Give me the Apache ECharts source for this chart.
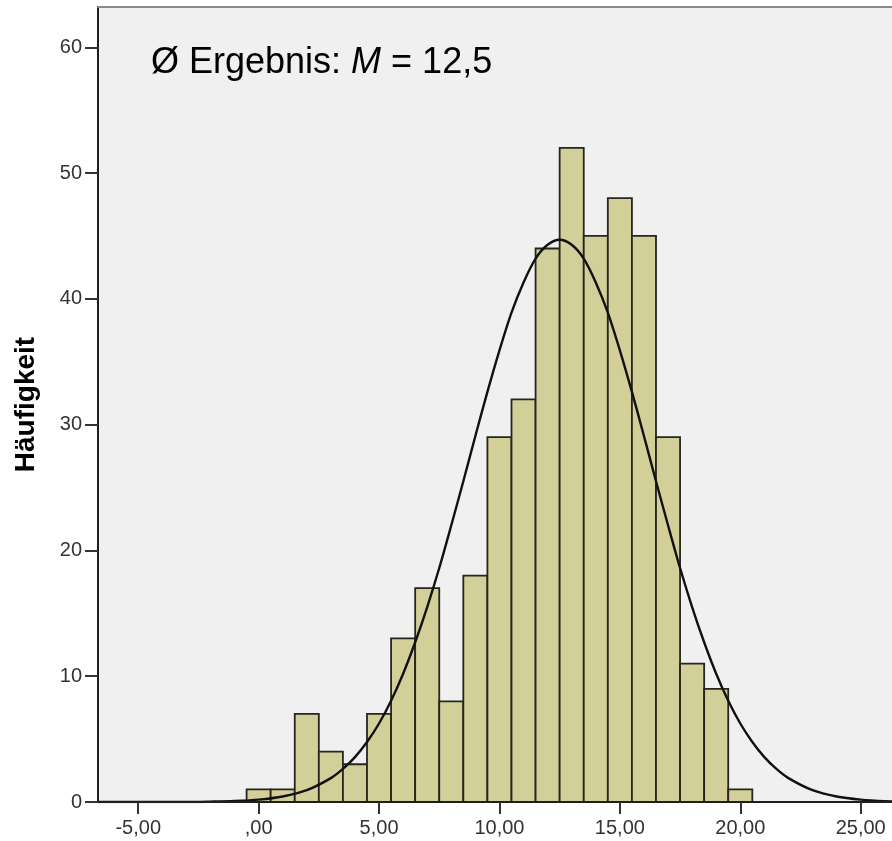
<!DOCTYPE html>
<html>
<head>
<meta charset="utf-8">
<script src="https://cdn.jsdelivr.net/npm/echarts@6/dist/echarts.min.js"></script>
<style>
  html, body { margin: 0; padding: 0; background: #fff; }
  #chart { width: 892px; height: 841px; }
</style>
</head>
<body>
<div id="chart"></div>
<script>
// Histogramm: Klassenmitten und Häufigkeiten
const binCenters = [0, 1, 2, 3, 4, 5, 6, 7, 8, 9, 10, 11, 12, 13, 14, 15, 16, 17, 18, 19, 20];
const binCounts = [1, 1, 7, 4, 3, 7, 13, 17, 8, 18, 29, 32, 44, 52, 45, 48, 45, 29, 11, 9, 1];

// Normalverteilungskurve
const curveX = [-6.7, -5, -4, -3, -2, -1, 0, 1, 2, 3, 3.5, 4, 4.5, 5, 5.5, 6, 6.5, 7, 7.5, 8, 8.5, 9, 9.5,
  10, 10.5, 11, 11.5, 12, 12.5, 13, 13.5, 14, 14.5, 15, 15.5, 16, 16.5, 17, 17.5, 18, 18.5, 19, 19.5,
  20, 20.5, 21, 21.5, 22, 23, 24, 25, 26, 27];
const curveY = [0, 0, 0, 0, 0.03, 0.08, 0.19, 0.44, 0.94, 1.9, 2.63, 3.57, 4.77, 6.24, 8.05, 10.2, 12.7, 15.5, 18.6, 22.0, 25.5, 29.1, 32.6,
  35.9, 38.9, 41.3, 43.2, 44.3, 44.7, 44.3, 43.2, 41.3, 38.9, 35.9, 32.6, 29.1, 25.5, 22.0, 18.6, 15.5, 12.7, 10.2, 8.05,
  6.24, 4.77, 3.57, 2.63, 1.9, 0.94, 0.44, 0.19, 0.07, 0.03];

// Achsenbeschriftungen
const xTicks = [-5, 0, 5, 10, 15, 20, 25];
const xTickLabels = ['-5,00', ',00', '5,00', '10,00', '15,00', '20,00', '25,00'];
const yTicks = [0, 10, 20, 30, 40, 50, 60];

const font = "'Liberation Sans', Arial, sans-serif";

const myChart = echarts.init(document.getElementById('chart'));

const option = {
  animation: false,
  backgroundColor: '#ffffff',
  title: {
    left: 146,
    top: 40,
    text: '{a|Ø Ergebnis: }{m|M}{a| = 12,5}',
    textStyle: {
      fontWeight: 'normal',
      rich: {
        a: { fontFamily: font, fontSize: 36, fontWeight: 'normal', color: '#000' },
        m: { fontFamily: font, fontSize: 36, fontWeight: 'normal', color: '#000', fontStyle: 'italic' }
      }
    }
  },
  grid: {
    left: 98,
    right: 0,
    top: 7,
    bottom: 39,
    show: true,
    backgroundColor: '#f0f0f0',
    borderWidth: 0
  },
  xAxis: [
    {
      type: 'value',
      min: -6.67,
      max: 26.3,
      z: 5,
      splitLine: { show: false },
      axisLine: { onZero: false, lineStyle: { color: '#1e1e1e', width: 2 } },
      axisTick: { customValues: xTicks, length: 12, lineStyle: { color: '#333', width: 2 } },
      axisLabel: {
        customValues: xTicks,
        margin: 16,
        fontFamily: font,
        fontSize: 20,
        color: '#333',
        formatter: function (v) {
          const i = xTicks.indexOf(v);
          return i >= 0 ? xTickLabels[i] : '';
        }
      }
    },
    {
      type: 'value',
      position: 'top',
      min: -6.67,
      max: 26.3,
      z: 5,
      splitLine: { show: false },
      axisLine: { onZero: false, lineStyle: { color: '#8a8a8a', width: 2 } },
      axisTick: { show: false },
      axisLabel: { show: false }
    }
  ],
  yAxis: {
    type: 'value',
    min: 0,
    max: 63.2,
    z: 5,
    name: 'Häufigkeit',
    nameLocation: 'middle',
    nameGap: 58,
    nameTextStyle: { fontFamily: font, fontSize: 28, fontWeight: 'bold', color: '#000' },
    splitLine: { show: false },
    axisLine: { show: true, onZero: false, lineStyle: { color: '#1e1e1e', width: 2 } },
    axisTick: { customValues: yTicks, length: 13, lineStyle: { color: '#333', width: 2 } },
    axisLabel: {
      customValues: yTicks,
      margin: 16,
      fontFamily: font,
      fontSize: 20,
      color: '#333'
    }
  },
  series: [
    {
      type: 'custom',
      z: 2,
      data: binCenters.map((c, i) => [c, binCounts[i]]),
      encode: { x: 0, y: 1 },
      renderItem: function (params, api) {
        const x = api.value(0);
        const y = api.value(1);
        const p0 = api.coord([x - 0.5, y]);
        const p1 = api.coord([x + 0.5, 0]);
        return {
          type: 'rect',
          shape: { x: p0[0], y: p0[1], width: p1[0] - p0[0], height: p1[1] - p0[1] },
          style: { fill: '#d3cf98', stroke: '#26261c', lineWidth: 1.8 }
        };
      }
    },
    {
      type: 'line',
      z: 3,
      smooth: 0.3,
      showSymbol: false,
      data: curveX.map((x, i) => [x, curveY[i]]),
      lineStyle: { color: '#111', width: 2.4 }
    }
  ]
};

myChart.setOption(option);
</script>
</body>
</html>
